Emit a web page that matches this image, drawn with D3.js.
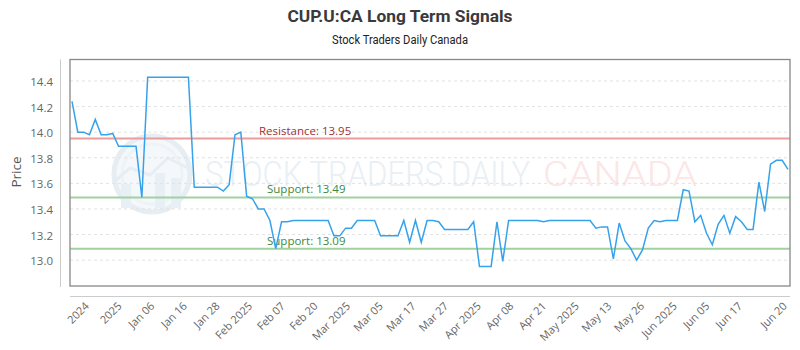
<!DOCTYPE html>
<html><head><meta charset="utf-8">
<script src="https://cdn.jsdelivr.net/npm/d3@7"></script>
<style>body{margin:0;background:#fff}svg{display:block}</style>
</head><body><svg id="c" width="800" height="350"></svg>
<script>
const chartTitle = "CUP.U:CA Long Term Signals";
const chartSubtitle = "Stock Traders Daily Canada";
const prices = [
  14.24, 14.00, 14.00, 13.98, 14.10, 13.98, 13.98, 13.99, 13.89, 13.89,
  13.89, 13.89, 13.49, 14.43, 14.43, 14.43, 14.43, 14.43, 14.43, 14.43,
  14.43, 13.57, 13.57, 13.57, 13.57, 13.57, 13.54, 13.59, 13.98, 14.00,
  13.50, 13.48, 13.40, 13.40, 13.31, 13.09, 13.30, 13.30, 13.31, 13.31,
  13.31, 13.31, 13.31, 13.31, 13.31, 13.19, 13.19, 13.25, 13.25, 13.31,
  13.31, 13.31, 13.31, 13.19, 13.19, 13.19, 13.19, 13.31, 13.14, 13.31,
  13.14, 13.31, 13.31, 13.30, 13.24, 13.24, 13.24, 13.24, 13.24, 13.30,
  12.95, 12.95, 12.95, 13.30, 12.99, 13.31, 13.31, 13.31, 13.31, 13.31,
  13.31, 13.30, 13.31, 13.31, 13.31, 13.31, 13.31, 13.31, 13.31, 13.31,
  13.25, 13.26, 13.26, 13.01, 13.29, 13.15, 13.09, 13.00, 13.08, 13.25,
  13.31, 13.30, 13.31, 13.31, 13.31, 13.55, 13.54, 13.30, 13.35, 13.21,
  13.12, 13.28, 13.35, 13.21, 13.34, 13.30, 13.24, 13.24, 13.61, 13.38,
  13.75, 13.78, 13.78, 13.71
];
const xTickLabels = ["2024","2025","Jan 06","Jan 16","Jan 28","Feb 2025","Feb 07","Feb 20",
  "Mar 2025","Mar 05","Mar 17","Mar 27","Apr 2025","Apr 08","Apr 21","May 2025","May 13",
  "May 26","Jun 2025","Jun 05","Jun 17","Jun 20"];
const yTickValues = [13.0, 13.2, 13.4, 13.6, 13.8, 14.0, 14.2, 14.4];
const levelNames = ["Resistance", "Support", "Support"];
const levelValues = [13.95, 13.49, 13.09];
const levelKinds = ["res", "sup", "sup"];

const svg = d3.select("#c");
const font = "'Open Sans', 'DejaVu Sans', sans-serif";
const L = 70, R = 790, T = 59.5, B = 286;

const x = d3.scaleLinear().domain([0, prices.length - 1]).range([72, 788]);
const y = d3.scaleLinear().domain([12.798, 14.568]).range([B, T]);

// titles
svg.append("text").attr("x", 400).attr("y", 22).attr("text-anchor", "middle")
  .attr("font-family", "Roboto, sans-serif").attr("font-weight", "bold").attr("font-size", 16)
  .attr("fill", "#3a3a3a").attr("textLength", 225).attr("lengthAdjust", "spacingAndGlyphs").text(chartTitle);
svg.append("text").attr("x", 400).attr("y", 44).attr("text-anchor", "middle")
  .attr("font-family", "Roboto, sans-serif").attr("font-size", 12)
  .attr("fill", "#222").attr("textLength", 136).attr("lengthAdjust", "spacingAndGlyphs").text(chartSubtitle);

// watermark
const wm = svg.append("g");
wm.append("circle").attr("cx", 152).attr("cy", 174).attr("r", 38)
  .attr("fill", "#f4f8fb").attr("stroke", "#e6eef4").attr("stroke-width", 5);
wm.append("circle").attr("cx", 152).attr("cy", 174).attr("r", 30)
  .attr("fill", "none").attr("stroke", "#eef3f7").attr("stroke-width", 3);
[[121, 184, 10], [155, 173, 10], [171, 178, 10]].forEach(b => {
  wm.append("rect").attr("x", b[0]).attr("y", b[1]).attr("width", b[2]).attr("height", 208 - b[1])
    .attr("fill", "#e8eff5");
});
wm.append("polyline").attr("points", "114,182 130,168 150,175 168,158 188,168")
  .attr("fill", "none").attr("stroke", "#e6eef4").attr("stroke-width", 3);
wm.append("text").attr("x", 205).attr("y", 186).attr("font-family", "Roboto, sans-serif")
  .attr("font-weight", 300).attr("font-size", 35).attr("fill", "#e8eff5").attr("textLength", 325)
  .attr("lengthAdjust", "spacingAndGlyphs").text("STOCK TRADERS DAILY");
wm.append("text").attr("x", 543).attr("y", 186).attr("font-family", "Roboto, sans-serif")
  .attr("font-weight", 300).attr("font-size", 35).attr("fill", "#fce6e6").attr("textLength", 154)
  .attr("lengthAdjust", "spacingAndGlyphs").text("CANADA");

// gridlines
svg.append("g").selectAll("line").data(yTickValues).join("line")
  .attr("x1", L).attr("x2", R).attr("y1", d => y(d)).attr("y2", d => y(d))
  .attr("stroke", "#e2e2e2").attr("stroke-dasharray", "3,3");

// y axis
svg.append("line").attr("x1", 60.5).attr("x2", 60.5).attr("y1", T).attr("y2", B + 1)
  .attr("stroke", "#ccc");
svg.append("g").selectAll("text").data(yTickValues).join("text")
  .attr("x", 53).attr("y", d => y(d) + 1).attr("dy", "0.35em").attr("text-anchor", "end")
  .attr("font-family", font).attr("font-size", 11.5).attr("fill", "#666")
  .text(d => d3.format(".1f")(d));
svg.append("text").attr("transform", "translate(21,172) rotate(-90)").attr("text-anchor", "middle")
  .attr("font-family", font).attr("font-size", 13.5).attr("fill", "#555").text("Price");

// x axis
svg.append("line").attr("x1", L).attr("x2", R).attr("y1", 296.5).attr("y2", 296.5).attr("stroke", "#ccc");
const tickStart = 3.1, tickStep = 5.61;
const tickIdx = xTickLabels.map((d, i) => i === xTickLabels.length - 1 ? prices.length - 1 : tickStart + i * tickStep);
svg.append("g").selectAll("text").data(xTickLabels).join("text")
  .attr("transform", (d, i) => `translate(${x(tickIdx[i]) - 3},304) rotate(-45)`)
  .attr("dy", "0.35em").attr("text-anchor", "end")
  .attr("font-family", font).attr("font-size", 11).attr("fill", "#666").text(d => d);

// levels
const lv = svg.append("g");
levelValues.forEach((v, i) => {
  const res = levelKinds[i] === "res";
  lv.append("line").attr("x1", L).attr("x2", R).attr("y1", y(v)).attr("y2", y(v))
    .attr("stroke", res ? "#eb9c9c" : "#9fd29f").attr("stroke-width", 2);
  lv.append("text").attr("x", res ? 259 : 267).attr("y", y(v) - 4)
    .attr("font-family", font).attr("font-size", 11.5).attr("fill", res ? "#a33030" : "#3b8a3b")
    .text(`${levelNames[i]}: ${v.toFixed(2)}`);
});

// price line
svg.append("path").datum(prices)
  .attr("d", d3.line().x((d, i) => x(i)).y(d => y(d)))
  .attr("fill", "none").attr("stroke", "#36a2eb").attr("stroke-width", 1.5);

// plot border
svg.append("rect").attr("x", L).attr("y", T).attr("width", R - L).attr("height", B - T)
  .attr("fill", "none").attr("stroke", "#888").attr("stroke-width", 1.3);
</script></body></html>
